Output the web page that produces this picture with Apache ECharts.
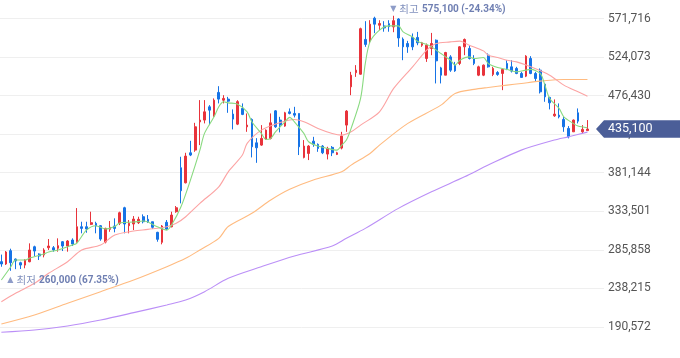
<!DOCTYPE html>
<html><head><meta charset="utf-8">
<script src="https://cdn.jsdelivr.net/npm/echarts@6/dist/echarts.min.js"></script>
<style>html,body{margin:0;padding:0;background:#fff}#c{width:680px;height:358px}</style>
</head><body><div id="c"></div>
<script>
// ---- data ----
const opens = [271300,268400,284800,274500,270000,267000,271200,289700,280700,279500,
288500,288500,287800,295900,290600,298000,295900,314400,314400,317400,
318600,315700,295500,311200,315300,318600,337900,315700,317800,319400,
326800,323600,320600,307500,295200,319900,314400,333000,387300,368700,
405800,409100,444000,446200,462600,451100,480400,470800,472100,453600,
441200,460600,437900,447000,418100,415300,422300,423600,457600,446200,
438800,456400,454400,454400,400100,405000,420200,416200,414100,404200,
412500,403800,411600,440000,487300,504800,502900,545900,543900,572100,
563400,562500,565300,561300,571100,546200,540800,548300,548300,538700,
522300,534700,544900,510700,501700,524300,514100,516200,536700,534700,
522300,501700,501700,526400,502600,505000,503800,516200,512000,510000,
503800,500500,522300,503800,507900,490600,474200,451500,452300,447000,
435900,431700,455200,431700,433200];
const closes = [268400,283200,270000,272100,267100,273300,285700,284400,278300,285700,
290600,285700,291000,290600,296800,293100,314400,312400,311600,319400,
315300,299200,312400,313700,312400,331700,317800,318600,323900,323600,
320600,320600,313700,298900,315300,311600,328900,337900,358900,401700,
403000,437900,446200,456400,458500,470800,472100,473000,469600,447400,
469000,453200,440000,413200,412000,423600,433800,442800,437900,440000,
455200,454400,452300,413200,414100,414100,416200,411200,405800,411200,
405800,405800,426400,457300,501700,507900,559100,539700,564700,564700,
565500,560000,561600,569000,547600,536700,536700,536700,541600,541600,
538700,540800,519400,501700,529700,507900,507000,536700,545800,522300,
516200,512000,514100,512000,510000,502600,508800,510000,506700,503800,
498900,525200,503800,497600,481100,474900,467500,453600,450200,437900,
425500,446200,444900,434700,435100];
const highs = [280000,284400,287300,275200,271200,274200,293900,291000,281600,287800,
299200,290600,300100,296800,298000,300100,337500,320600,320600,333000,
320600,316500,313200,321500,324800,333000,339100,322700,327600,326800,
329700,328900,320600,308200,316500,322700,333000,340000,400900,405800,
420600,442800,470900,470900,464700,473000,488100,477000,474900,459400,
470800,466800,454400,448300,423900,440000,434700,454400,458500,450200,
456400,460600,462600,454400,421500,415300,425500,417400,415300,413200,
414100,407000,431700,458500,505800,514100,560400,568400,569600,573900,
569600,568400,569600,575100,572100,548300,544100,553200,555200,542800,
540800,553900,545800,512000,530500,526400,518100,537500,547000,538700,
526400,513400,514900,528500,512000,506700,510000,520200,520200,512000,
505800,526400,525200,505800,510000,491800,474900,471700,466800,450200,
438800,447000,460600,440000,446200];
const lows = [265000,267200,260000,262000,262200,263100,270500,278300,273300,276600,
285700,283600,283600,284400,283600,290600,294700,306300,307000,316500,
306300,297100,293900,308200,307500,316500,306300,306300,310300,317800,
318600,319000,311600,295900,292700,310300,313700,331700,343300,368000,
401700,407000,415300,442100,440000,450200,466800,466800,455200,434700,
440000,452300,431700,400100,393400,414400,422300,422300,436600,431000,
437900,453200,449500,403000,398900,396800,413200,407000,404200,397600,
401700,403000,410000,431700,477000,499600,502300,536700,541200,553600,
557300,555400,555400,554800,536700,520200,529300,532600,538700,536700,
518100,526400,491500,491500,501700,505800,505800,514100,526400,521100,
514100,500500,500500,511000,500500,500900,483200,507900,505000,502900,
498900,499300,502900,494300,479100,468800,459400,450200,448300,431700,
423600,431700,442100,429700,433200];
// moving averages read at selected candles: [candle index, value]
const ma5 = [[0,248600],[2,265000],[3,273300],[5,273300],[6,275800],[9,280700],[10,283200],[12,285700],
[15,291800],[16,294300],[18,310300],[20,315700],[22,311600],[24,314700],[25,319000],[28,320200],
[30,321500],[31,320200],[33,314400],[35,310300],[36,316500],[38,339100],[40,372100],[42,409100],
[43,430100],[45,450200],[46,462600],[47,468800],[48,467500],[50,465900],[52,456400],[53,444100],
[55,429700],[56,422300],[57,423600],[58,431700],[60,444100],[61,449500],[62,444100],[64,429700],
[65,419400],[67,414100],[69,411200],[71,409100],[72,415300],[73,421500],[74,435900],[76,472900],
[77,516200],[78,542800],[80,557300],[82,562600],[84,562600],[85,555200],[87,549000],[88,543700],
[90,539600],[91,536700],[93,528500],[94,524300],[95,520200],[96,514100],[97,520200],[99,524300],
[100,522300],[102,523600],[103,516200],[105,511200],[107,508800],[109,505800],[111,507900],[112,508800],
[114,503800],[115,489400],[116,472900],[118,460600],[119,450200],[121,442100],[122,438800],[124,436700]];
const ma20 = [[0,221800],[3,232200],[7,244500],[10,256900],[14,271200],[17,285700],[21,291800],[24,304200],
[28,309100],[31,311200],[35,314400],[37,318600],[39,326800],[42,343300],[46,363800],[48,382300],
[51,403000],[52,417400],[55,433800],[59,443300],[62,447000],[64,444100],[67,435900],[70,429700],
[72,427600],[74,431700],[76,440000],[80,456400],[83,485300],[87,512000],[90,532600],[92,540800],
[95,542800],[97,543700],[99,538800],[102,531700],[103,526400],[105,523600],[107,520200],[109,518100],
[112,512000],[116,501700],[119,489400],[122,481100],[124,475800]];
const ma60 = [[0,194300],[7,205400],[14,219900],[21,234200],[28,248600],[35,265000],[39,275400],[42,285700],
[46,300100],[48,314700],[53,331000],[57,347400],[61,360600],[66,372100],[72,382300],[74,390600],
[78,405000],[80,415300],[86,442100],[93,464700],[96,479100],[100,484100],[103,486500],[107,489400],
[110,491500],[114,494300],[119,496400],[124,496400]];
const ma120 = [[0,184100],[7,186900],[14,191800],[21,199200],[28,208300],[35,217800],[39,223900],[43,234200],
[48,250700],[55,265000],[62,278300],[70,290600],[73,300100],[77,312400],[84,337100],[91,357600],
[98,376100],[103,390600],[110,409100],[117,421500],[120,425500],[124,431300]];
const yTicks = [190572,238215,285858,333501,381144,428787,476430,524073,571716];
const emptySlots = 3;
const categories = Array.from({length: opens.length + emptySlots}, (_, i) => 'D' + (i + 1));

// ---- chart ----
const fmt = v => Math.round(v).toLocaleString('en-US');
const step = yTicks[1] - yTicks[0];
const last = closes[closes.length - 1];
const maxHigh = Math.max(...highs), maxIdx = highs.indexOf(maxHigh);
const minLow = Math.min(...lows), minIdx = lows.indexOf(minLow);
const pct = r => ((r - 1) * 100).toFixed(2) + '%';

const annoRich = {
  a: {fontSize: 8, color: '#8e9cc8', fontFamily: 'DejaVu Sans', padding: [0, 3, 0, 0]},
  b: {fontSize: 10.5, color: '#8090bd', fontFamily: 'Noto Sans CJK KR'},
  c: {fontSize: 10, color: '#6f7fb2', fontFamily: 'Roboto', fontWeight: 'bold'}
};
const chart = echarts.init(document.getElementById('c'), null, {renderer: 'canvas'});
const gridRight = 76;
const option = {
  animation: false,
  backgroundColor: '#ffffff',
  grid: {left: -1, right: gridRight, top: -20.06, height: 385.6, outerBoundsMode: 'none', containLabel: false},
  xAxis: {type: 'category', data: categories, boundaryGap: true,
    axisLine: {show: false}, axisTick: {show: false}, axisLabel: {show: false}, splitLine: {show: false}},
  yAxis: {type: 'value', position: 'right', min: yTicks[0] - step, max: yTicks[yTicks.length - 1] + step,
    interval: step, scale: true,
    axisLine: {show: false}, axisTick: {show: false},
    axisLabel: {margin: 4, color: '#555555', fontSize: 12, fontFamily: 'Roboto', formatter: v => fmt(v)},
    splitLine: {lineStyle: {color: '#efefef', width: 1}}},
  series: [
    {type: 'candlestick', barWidth: 2.2,
      data: opens.map((o, i) => [o, closes[i], lows[i], highs[i]]),
      itemStyle: {color: '#e8333b', color0: '#1673e6', borderColor: '#e8333b', borderColor0: '#1673e6', borderWidth: 1},
      markPoint: {symbol: 'circle', symbolSize: 1, itemStyle: {color: 'rgba(0,0,0,0)'}, silent: true,
        data: [
          {coord: [maxIdx, maxHigh], label: {show: true, position: [-3, -12], align: 'left', verticalAlign: 'top',
            formatter: '{a|▼}{b|최고} {c|' + fmt(maxHigh) + ' (' + pct(last / maxHigh) + ')}', rich: annoRich}},
          {coord: [minIdx, minLow], label: {show: true, position: [-3, 4], align: 'left', verticalAlign: 'top',
            formatter: '{a|▲}{b|최저} {c|' + fmt(minLow) + ' (' + pct(last / minLow) + ')}', rich: annoRich}}
        ]}},
    {type: 'line', data: ma120, smooth: 0.3, showSymbol: false, z: 3, lineStyle: {width: 1.1, color: '#bb8ff7'}},
    {type: 'line', data: ma60, smooth: 0.3, showSymbol: false, z: 3, lineStyle: {width: 1.1, color: '#ffbb80'}},
    {type: 'line', data: ma20, smooth: 0.3, showSymbol: false, z: 3, lineStyle: {width: 1.1, color: '#fca3a3'}},
    {type: 'line', data: ma5, smooth: 0.3, showSymbol: false, z: 3, lineStyle: {width: 1.1, color: '#89da80'}}
  ]
};
chart.setOption(option);

// current-price tag, placed through the y scale
const yPx = chart.convertToPixel({yAxisIndex: 0}, last);
const tagX = chart.getWidth() - gridRight;
chart.setOption({graphic: {elements: [
  {type: 'polygon', x: tagX, y: yPx, z: 100, zlevel: 0,
    shape: {points: [[-8, 0], [0, -8.7], [90, -8.7], [90, 8.7], [0, 8.7]]},
    style: {fill: '#4b5e98'}},
  {type: 'text', x: tagX + 4, y: yPx, z: 101, zlevel: 0,
    style: {text: fmt(last), fill: '#ffffff', font: '12.5px Roboto', verticalAlign: 'middle', align: 'left'}}
]}});
</script></body></html>
